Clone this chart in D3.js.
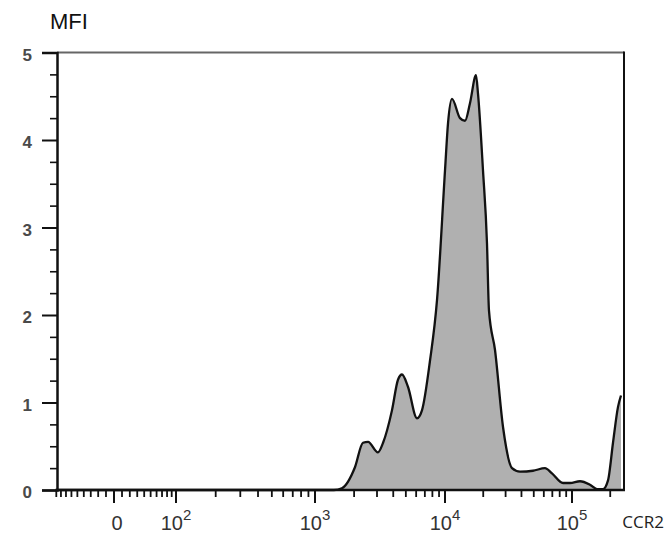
<!DOCTYPE html>
<html>
<head>
<meta charset="utf-8">
<script src="https://cdn.jsdelivr.net/npm/d3@7"></script>
<style>
  body { margin: 0; background: #fff; }
  svg { display: block; }
</style>
</head>
<body>
<svg id="chart" width="669" height="535"></svg>
<script>
// histogram (CCR2 fluorescence vs MFI)
const ccr2Values = [-92, 1000, 1400, 1610, 2030, 2340, 2560, 3050, 3340, 3910, 4350, 4670, 5190, 6090, 6650,
  7670, 8680, 10000, 10560, 11350, 13130, 14370, 15730, 17540, 18190, 19920, 21410, 22200, 24760, 28630,
  33710, 38960, 49310, 61260, 69580, 84970, 96440, 115600, 138600, 157300, 175400, 192100, 210300, 230300, 243100];
const mfiValues = [0, 0, 0, 0.02, 0.26, 0.54, 0.55, 0.43, 0.54, 0.91, 1.26, 1.32, 1.18, 0.82, 0.91,
  1.48, 2.17, 3.65, 4.19, 4.47, 4.25, 4.22, 4.42, 4.74, 4.53, 3.65, 2.82, 2.05, 1.6, 0.72,
  0.25, 0.21, 0.22, 0.25, 0.19, 0.08, 0.08, 0.1, 0.06, 0.01, 0.01, 0.11, 0.54, 0.95, 1.08];

const yTicks = [0, 1, 2, 3, 4, 5];
const xMajorTicks = [0, 1e2, 1e3, 1e4, 1e5];
const xTickLabels = [["0", ""], ["10", "2"], ["10", "3"], ["10", "4"], ["10", "5"]];
const xMinorTicks = [-90, -80, -70, -60, -50, -40, -30, -20, -10, 10, 20, 30, 40, 50, 60, 70, 80, 90]
  .concat([2, 3, 4, 5, 6, 7, 8, 9].flatMap(m => [m * 1e2, m * 1e3, m * 1e4]), [2e5]);

const svg = d3.select("#chart");
const mLeft = 57, mRight = 624, mTop = 52.5, mBottom = 490;

// biexponential-like display transform
const T = v => Math.asinh(v / 60) / Math.LN10;
const xs = d3.scaleLinear()
  .domain([-100, 0, 1e2, 1e3, 1e4, 1e5].map(T))
  .range([52, 114, 176, 315, 445, 572]);
const x = v => xs(T(v));
const y = d3.scaleLinear().domain([0, 5]).range([mBottom, mTop]);

const data = ccr2Values.map((v, i) => [v, mfiValues[i]]);

svg.append("path")
  .datum(data)
  .attr("fill", "#b0b0b0")
  .attr("d", d3.area().x(d => x(d[0])).y0(y(0)).y1(d => y(d[1])).curve(d3.curveMonotoneX));

svg.append("path")
  .datum(data)
  .attr("fill", "none")
  .attr("stroke", "#111")
  .attr("stroke-width", 2.3)
  .attr("d", d3.line().x(d => x(d[0])).y(d => y(d[1])).curve(d3.curveMonotoneX));

// frame
svg.append("line").attr("x1", mLeft).attr("x2", mRight).attr("y1", mTop).attr("y2", mTop)
  .attr("stroke", "#666").attr("stroke-width", 2);
svg.append("line").attr("x1", mRight).attr("x2", mRight).attr("y1", mTop - 1).attr("y2", mBottom)
  .attr("stroke", "#111").attr("stroke-width", 2);

// y axis
const yMinor = d3.range(0, 5, 0.25).filter(v => v % 1 !== 0);
svg.append("g").attr("transform", `translate(${mLeft},0)`)
  .call(d3.axisLeft(y).tickValues(yMinor).tickSize(7).tickFormat(""))
  .call(g => g.select(".domain").remove())
  .call(g => g.selectAll("line").attr("stroke", "#111").attr("stroke-width", 1.6));
svg.append("g").attr("transform", `translate(${mLeft},0)`)
  .call(d3.axisLeft(y).tickValues(yTicks).tickSize(15).tickPadding(10).tickFormat(d3.format("d")))
  .call(g => g.select(".domain").attr("stroke", "#111").attr("stroke-width", 2.5))
  .call(g => g.selectAll("line").attr("stroke", "#111").attr("stroke-width", 2))
  .call(g => g.selectAll("text").attr("font-family", "Liberation Sans, Arial, sans-serif")
    .attr("font-size", 17).attr("font-weight", "bold").attr("fill", "#4a4a4a").attr("dy", "0.45em"));

// x axis
const gx = svg.append("g");
gx.append("line").attr("x1", mLeft - 1).attr("x2", mRight + 1).attr("y1", mBottom).attr("y2", mBottom)
  .attr("stroke", "#111").attr("stroke-width", 2.5);
gx.selectAll(".minor").data(xMinorTicks).join("line")
  .attr("x1", d => x(d)).attr("x2", d => x(d)).attr("y1", mBottom).attr("y2", mBottom + 7)
  .attr("stroke", "#111").attr("stroke-width", 1.8);
gx.selectAll(".major").data(xMajorTicks).join("line")
  .attr("x1", d => x(d)).attr("x2", d => x(d)).attr("y1", mBottom).attr("y2", mBottom + 13)
  .attr("stroke", "#111").attr("stroke-width", 2);
const lbl = gx.selectAll(".lbl").data(xMajorTicks).join("text")
  .attr("x", (d, i) => x(d) + (i === 0 ? 3 : 0)).attr("y", 530)
  .attr("text-anchor", "middle")
  .attr("font-family", "Liberation Sans, Arial, sans-serif").attr("font-size", 20).attr("fill", "#333");
lbl.append("tspan").text((d, i) => xTickLabels[i][0]);
lbl.append("tspan").attr("dy", -10).attr("font-size", 15).text((d, i) => xTickLabels[i][1]);

svg.append("text").attr("x", 50).attr("y", 29)
  .attr("font-family", "Liberation Sans, Arial, sans-serif").attr("font-size", 22).attr("fill", "#111").text("MFI");
svg.append("text").attr("x", 664).attr("y", 528).attr("text-anchor", "end")
  .attr("font-family", "Open Sans, sans-serif").attr("font-size", 17).attr("fill", "#222").text("CCR2");
</script>
</body>
</html>
